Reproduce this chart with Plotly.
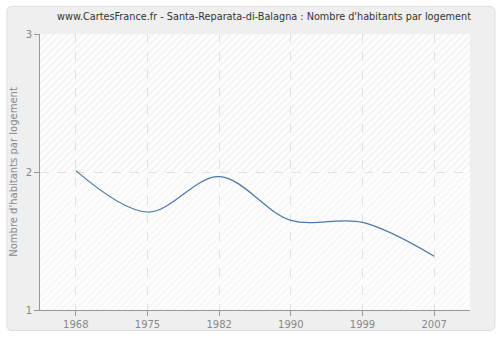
import plotly.graph_objects as go

years = ["1968", "1975", "1982", "1990", "1999", "2007"]
values = [2.01, 1.71, 1.966, 1.65, 1.635, 1.39]
y_ticks = [1, 2, 3]

fig = go.Figure()

# hatched background bands (on the hidden base axis), transparent between hatch lines
for y0, y1, col in [(1, 2, "#eeeeee"), (2, 3, "#e5e5e5")]:
    fig.add_trace(go.Scatter(
        x=[0, 1, 1, 0, 0], y=[y0, y0, y1, y1, y0], xaxis="x", yaxis="y",
        mode="lines", line=dict(width=0), fill="toself", fillcolor="rgba(0,0,0,0)",
        fillpattern=dict(shape="/", fgcolor=col, bgcolor="rgba(0,0,0,0)", size=5, solidity=0.3),
        hoverinfo="skip", showlegend=False))

fig.add_trace(go.Scatter(
    x=years, y=values, mode="lines", xaxis="x2", yaxis="y",
    line=dict(color="#4a78aa", width=1.2, shape="spline", smoothing=1.0),
    showlegend=False))

fig.update_layout(
    width=500, height=340,
    margin=dict(l=40, r=30, t=34, b=30),
    paper_bgcolor="white",
    plot_bgcolor="#fdfdfd",
    title=dict(text="www.CartesFrance.fr - Santa-Reparata-di-Balagna : Nombre d'habitants par logement",
               x=0.528, xanchor="center", y=0.952, yanchor="middle",
               font=dict(family="DejaVu Sans", size=9.7, color="#333333")),
    xaxis=dict(range=[0, 1], visible=False, fixedrange=True, automargin=False),
    xaxis2=dict(type="category", range=[-0.5, 5.5], overlaying="x", anchor="y", side="bottom",
                showline=True, linecolor="#999999",
                ticks="outside", ticklen=5, tickcolor="#999999",
                showgrid=True, gridcolor="#e0e0e0", griddash="dash", gridwidth=1,
                tickfont=dict(family="DejaVu Sans", size=10, color="#888888"),
                zeroline=False, automargin=False),
    yaxis=dict(range=[1, 3], tickvals=y_ticks, showline=True, linecolor="#999999",
               ticks="outside", ticklen=5, tickcolor="#999999",
               showgrid=True, gridcolor="#e0e0e0", griddash="dash", gridwidth=1,
               tickfont=dict(family="DejaVu Sans", size=10, color="#888888"),
               title=dict(text="Nombre d'habitants par logement", standoff=6,
                          font=dict(family="DejaVu Sans", size=10, color="#888888")),
               zeroline=False, layer="above traces", automargin=False),
    shapes=[dict(type="path", xref="paper", yref="paper", layer="below",
                 path="M -0.07,-0.074 L 1.045,-0.074 Q 1.058,-0.074 1.058,-0.055 L 1.058,1.08 Q 1.058,1.1 1.045,1.1 L -0.064,1.1 Q -0.077,1.1 -0.077,1.08 L -0.077,-0.055 Q -0.077,-0.074 -0.064,-0.074 Z",
                 fillcolor="#efefef", line=dict(color="#dddddd", width=1)),
            dict(type="rect", xref="paper", yref="paper", layer="below",
                 x0=0, x1=1, y0=0, y1=1, fillcolor="#fdfdfd", line=dict(width=0))],
)

fig.write_html("out.html")
